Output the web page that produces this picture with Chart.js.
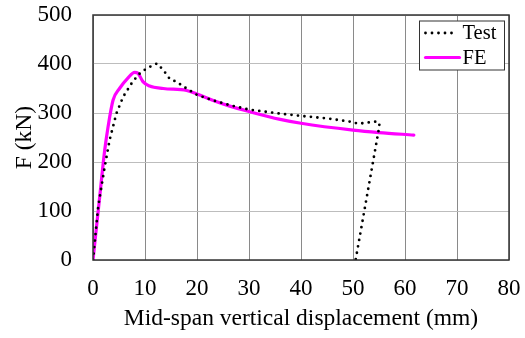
<!DOCTYPE html>
<html>
<head>
<meta charset="utf-8">
<script src="https://cdn.jsdelivr.net/npm/chart.js@4"></script>
<style>
  html, body { margin: 0; padding: 0; background: #fff; }
  #wrap { width: 525px; height: 338px; }
</style>
</head>
<body>
<div id="wrap"><canvas id="chart" width="525" height="338"></canvas></div>
<script>
// valores
const testX = [0, 1.0, 2.25, 3.2, 4.5, 5.8, 7.4, 8.7, 10.3, 12.3, 13.5, 14.8, 16, 18, 20, 23, 26.3, 30, 35, 40, 45, 49.7, 51, 54.8, 55.1, 50.5];
const testY = [0, 109, 190, 245, 299, 333, 360, 378, 391, 401, 388, 369, 364, 350, 337, 326, 316, 307, 300, 294, 289, 282, 278, 283, 275, 0];

const feX = [0, 1.2, 2.25, 2.9, 3.85, 5.1, 6.7, 8.0, 8.65, 9.6, 10.9, 13.5, 18, 20, 23, 26.3, 30, 36, 40, 50, 55, 61.7];
const feY = [0, 120, 224, 272, 326, 350, 371, 383, 381, 364, 355, 350, 346, 339, 326, 314, 303, 287, 279, 265, 260, 255];

const xTicks = [0, 10, 20, 30, 40, 50, 60, 70, 80];
const yTicks = [0, 100, 200, 300, 400, 500];

const serif = "'Liberation Serif', 'Times New Roman', serif";

const toPoints = (xs, ys) => xs.map((x, i) => ({ x: x, y: ys[i] }));

// moldura da área do gráfico
const plotFrame = {
  id: 'plotFrame',
  afterDatasetsDraw(chart) {
    const { ctx, chartArea: a } = chart;
    ctx.save();
    ctx.strokeStyle = '#333';
    ctx.lineWidth = 1.5;
    ctx.strokeRect(a.left, a.top, a.right - a.left, a.bottom - a.top);
    ctx.restore();
  }
};

// legenda dentro da área, canto superior direito
const insideLegend = {
  id: 'insideLegend',
  afterDraw(chart) {
    const { ctx, chartArea: a } = chart;
    const w = 85, h = 49;
    const left = a.right - 4.5 - w, top = a.top + 6;
    ctx.save();
    ctx.fillStyle = '#fff';
    ctx.fillRect(left, top, w, h);
    ctx.strokeStyle = '#333';
    ctx.lineWidth = 1;
    ctx.strokeRect(left, top, w, h);
    ctx.font = '20.5px ' + serif;
    ctx.textBaseline = 'middle';
    chart.data.datasets.forEach((ds, i) => {
      const y = top + 12 + i * 24.5;
      ctx.beginPath();
      ctx.strokeStyle = ds.borderColor;
      ctx.lineWidth = ds.borderWidth;
      ctx.lineCap = ds.borderCapStyle || 'butt';
      ctx.setLineDash(ds.borderDash || []);
      ctx.moveTo(left + 6, y);
      ctx.lineTo(left + (i === 0 ? 35 : 40), y);
      ctx.stroke();
      ctx.setLineDash([]);
      ctx.fillStyle = '#000';
      ctx.fillText(ds.label, left + 43, y + 1);
    });
    ctx.restore();
  }
};

new Chart(document.getElementById('chart'), {
  type: 'line',
  data: {
    datasets: [
      {
        label: 'Test',
        data: toPoints(testX, testY),
        borderColor: '#000',
        borderWidth: 2.8,
        borderDash: [0, 6.5],
        borderCapStyle: 'round',
        pointRadius: 0,
        fill: false,
        tension: 0
      },
      {
        label: 'FE',
        data: toPoints(feX, feY),
        borderColor: '#ff00ff',
        borderWidth: 3.2,
        borderCapStyle: 'round',
        pointRadius: 0,
        fill: false,
        cubicInterpolationMode: 'monotone'
      }
    ]
  },
  options: {
    responsive: false,
    animation: false,
    layout: { padding: { top: 15, right: 16, left: 0, bottom: 0 } },
    scales: {
      x: {
        type: 'linear',
        min: 0,
        max: 80,
        afterFit: (s) => { s.height = 78; s.paddingLeft = 0; s.paddingRight = 0; },
        afterBuildTicks: (s) => { s.ticks = xTicks.map(v => ({ value: v })); },
        ticks: { color: '#000', padding: 15, font: { family: serif, size: 23 } },
        grid: { color: '#8a8a8a', lineWidth: 1, drawTicks: false },
        border: { display: false },
        title: {
          display: true,
          text: 'Mid-span vertical displacement (mm)',
          color: '#000',
          font: { family: serif, size: 23.5 },
          padding: { top: 0, bottom: 5 }
        }
      },
      y: {
        min: 0,
        max: 500,
        afterFit: (s) => { s.width = 93; s.paddingTop = 0; s.paddingBottom = 0; },
        afterBuildTicks: (s) => { s.ticks = yTicks.map(v => ({ value: v })); },
        ticks: { color: '#000', padding: 21, font: { family: serif, size: 23 } },
        grid: { color: '#bdbdbd', lineWidth: 1, drawTicks: false },
        border: { display: false },
        title: {
          display: true,
          text: 'F (kN)',
          color: '#000',
          font: { family: serif, size: 23.5 },
          padding: { top: 11, bottom: 0 }
        }
      }
    },
    plugins: {
      legend: { display: false },
      tooltip: { enabled: false }
    }
  },
  plugins: [plotFrame, insideLegend]
});
</script>
</body>
</html>
